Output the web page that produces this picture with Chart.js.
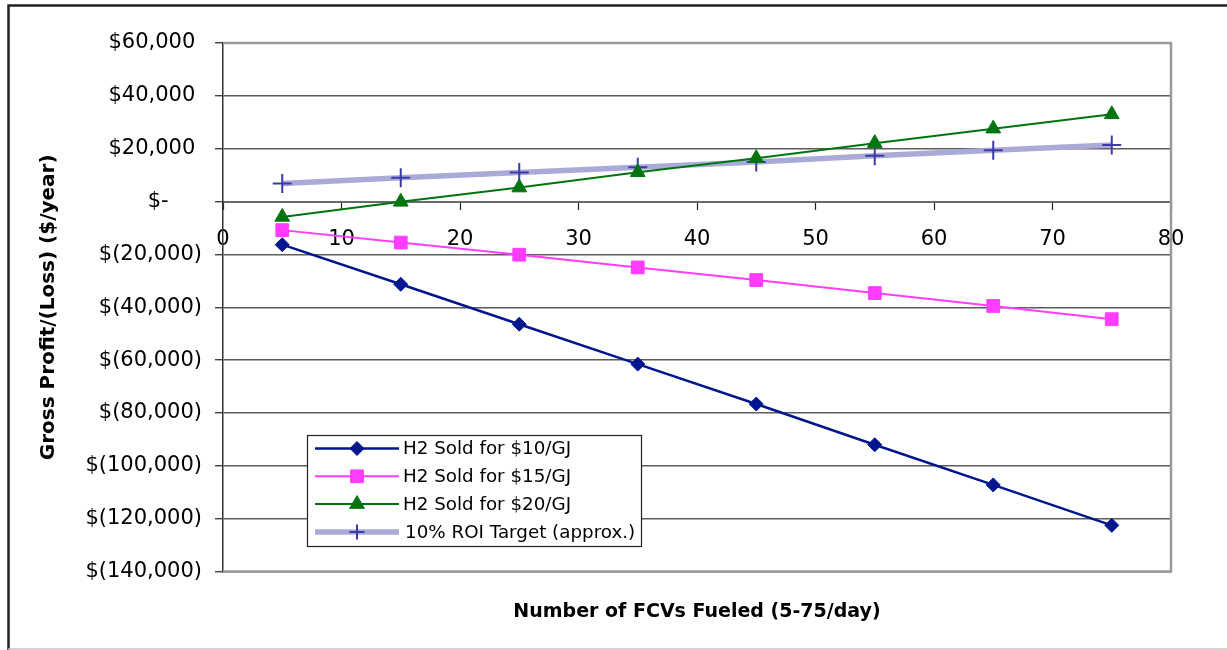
<!DOCTYPE html>
<html>
<head>
<meta charset="utf-8">
<script src="https://cdn.jsdelivr.net/npm/chart.js@4/dist/chart.umd.min.js"></script>
<style>
  html, body { margin: 0; padding: 0; background: #fff; }
</style>
</head>
<body>
<canvas id="profitChart" width="1227" height="650"></canvas>
<script>
// vehicles fueled per day
const fcvsPerDay = [5, 15, 25, 35, 45, 55, 65, 75];

// gross profit/(loss), $/year
const soldAt10 = [-16300, -31300, -46400, -61500, -76600, -92000, -107200, -122500];
const soldAt15 = [-10800, -15500, -20100, -24900, -29700, -34600, -39500, -44500];
const soldAt20 = [-5800, -100, 5300, 11100, 16400, 22100, 27600, 33000];
const roiTarget = [6800, 9000, 11000, 13000, 15000, 17300, 19400, 21400];

const seriesNames = ['H2 Sold for $10/GJ', 'H2 Sold for $15/GJ', 'H2 Sold for $20/GJ', '10% ROI Target (approx.)'];

const yTickValues = [60000, 40000, 20000, 0, -20000, -40000, -60000, -80000, -100000, -120000, -140000];
const yTickLabels = ['$60,000', '$40,000', '$20,000', '$-', '$(20,000)', '$(40,000)', '$(60,000)',
    '$(80,000)', '$(100,000)', '$(120,000)', '$(140,000)'];

const FONT = '"DejaVu Sans", Verdana, sans-serif';

const toPoints = (ys) => fcvsPerDay.map((x, i) => ({ x: x, y: ys[i] }));

// excel accounting format keeps a space for the closing bracket
const padLabel = (txt) => {
    if (txt === '$-') return txt + '\u00a0\u00a0\u00a0\u00a0\u00a0';
    if (txt.endsWith(')')) return txt;
    return txt + '\u00a0';
};

const framePlugin = {
    id: 'frame',
    beforeDraw(chart) {
        const ctx = chart.ctx;
        ctx.save();
        ctx.fillStyle = '#fff';
        ctx.fillRect(0, 0, chart.width, chart.height);
        ctx.strokeStyle = '#222';
        ctx.lineWidth = 2.5;
        ctx.beginPath();
        ctx.moveTo(8.5, 650);
        ctx.lineTo(8.5, 5.5);
        ctx.lineTo(1227, 5.5);
        ctx.stroke();
        ctx.strokeStyle = '#c4c4c4';
        ctx.lineWidth = 1.5;
        ctx.beginPath();
        ctx.moveTo(8, 649);
        ctx.lineTo(1227, 649);
        ctx.stroke();
        ctx.restore();
    },
    beforeDatasetsDraw(chart) {
        const { ctx, chartArea } = chart;
        ctx.save();
        ctx.strokeStyle = '#9a9a9a';
        ctx.lineWidth = 2.5;
        ctx.beginPath();
        ctx.moveTo(chartArea.left, chartArea.top);
        ctx.lineTo(chartArea.right, chartArea.top);
        ctx.lineTo(chartArea.right, chartArea.bottom);
        ctx.lineTo(chartArea.left, chartArea.bottom);
        ctx.stroke();
        ctx.restore();
    }
};

// legend box sits inside the plot, like the excel one
const boxLegend = {
    id: 'boxLegend',
    afterDatasetsDraw(chart) {
        const ctx = chart.ctx;
        const bx = 307, by = 435, bw = 334, bh = 111;
        ctx.save();
        ctx.fillStyle = '#fff';
        ctx.fillRect(bx, by, bw, bh);
        ctx.strokeStyle = '#222';
        ctx.lineWidth = 1.2;
        ctx.strokeRect(bx + 0.5, by + 0.5, bw, bh);
        chart.data.datasets.forEach((ds, i) => {
            const y = by + 13.5 + i * 27.8;
            ctx.strokeStyle = ds.borderColor;
            ctx.lineWidth = ds.borderWidth;
            ctx.beginPath();
            ctx.moveTo(315, y);
            ctx.lineTo(399, y);
            ctx.stroke();
            ctx.fillStyle = ds.pointBackgroundColor;
            ctx.strokeStyle = ds.pointBorderColor;
            ctx.lineWidth = ds.pointBorderWidth;
            Chart.helpers.drawPoint(ctx, {
                pointStyle: ds.pointStyle,
                radius: ds.pointStyle === 'cross' ? 7.5 : ds.pointRadius,
                borderWidth: ds.pointBorderWidth,
                rotation: 0
            }, 357, y);
            ctx.fillStyle = '#000';
            ctx.font = '18.3px ' + FONT;
            ctx.textAlign = 'left';
            ctx.textBaseline = 'middle';
            ctx.fillText(ds.label, i === 3 ? 405 : 403, y + 1);
        });
        ctx.restore();
    }
};

const ctx = document.getElementById('profitChart').getContext('2d');

new Chart(ctx, {
    type: 'line',
    data: {
        datasets: [
            {
                label: seriesNames[0],
                data: toPoints(soldAt10),
                borderColor: '#00168f',
                borderWidth: 2.5,
                pointStyle: 'rectRot',
                pointRadius: 7,
                pointBackgroundColor: '#00168f',
                pointBorderColor: '#00168f',
                pointBorderWidth: 1
            },
            {
                label: seriesNames[1],
                data: toPoints(soldAt15),
                borderColor: '#ff3cff',
                borderWidth: 2,
                pointStyle: 'rect',
                pointRadius: 9,
                pointBackgroundColor: '#ff3cff',
                pointBorderColor: '#ff3cff',
                pointBorderWidth: 1
            },
            {
                label: seriesNames[2],
                data: toPoints(soldAt20),
                borderColor: '#00750f',
                borderWidth: 2,
                pointStyle: 'triangle',
                pointRadius: 8.5,
                pointBackgroundColor: '#00750f',
                pointBorderColor: '#00750f',
                pointBorderWidth: 1
            },
            {
                label: seriesNames[3],
                data: toPoints(roiTarget),
                borderColor: '#aaaad8',
                borderWidth: 5.5,
                pointStyle: 'cross',
                pointRadius: 9.5,
                pointBackgroundColor: '#3b3ba8',
                pointBorderColor: '#3b3ba8',
                pointBorderWidth: 2
            }
        ]
    },
    options: {
        responsive: false,
        animation: false,
        devicePixelRatio: 1,
        layout: {
            padding: { left: 0, top: 43, right: 56, bottom: 27 }
        },
        elements: {
            line: { tension: 0 }
        },
        scales: {
            x: {
                type: 'linear',
                position: { y: 0 },
                min: 0,
                max: 80,
                ticks: {
                    stepSize: 10,
                    color: '#000',
                    padding: 18,
                    font: { family: FONT, size: 21 }
                },
                grid: {
                    drawOnChartArea: false,
                    tickLength: 7,
                    tickColor: '#222',
                    tickWidth: 1.2
                },
                border: { color: '#6a6a6a', width: 2 }
            },
            y: {
                min: -140000,
                max: 60000,
                afterFit(scale) { scale.width = 223; },
                ticks: {
                    stepSize: 20000,
                    color: '#000',
                    padding: 13,
                    font: { family: FONT, size: 21 },
                    callback: (v) => {
                        const i = yTickValues.indexOf(v);
                        return i < 0 ? '' : padLabel(yTickLabels[i]);
                    }
                },
                grid: {
                    color: '#5c5c5c',
                    lineWidth: 1.5,
                    tickLength: 8,
                    tickColor: '#222',
                    tickWidth: 1.2
                },
                border: { color: '#333', width: 1.5 },
                title: {
                    display: true,
                    text: 'Gross Profit/(Loss) ($/year)',
                    color: '#000',
                    font: { family: FONT, size: 20, weight: 'bold' },
                    padding: { top: 37, bottom: 0 }
                }
            }
        },
        plugins: {
            legend: { display: false },
            tooltip: { enabled: false },
            title: {
                display: true,
                position: 'bottom',
                fullSize: false,
                text: 'Number of FCVs Fueled (5-75/day)',
                color: '#000',
                font: { family: FONT, size: 19, weight: 'bold' },
                padding: { top: 28.6, bottom: 0 }
            }
        }
    },
    plugins: [framePlugin, boxLegend]
});
</script>
</body>
</html>
